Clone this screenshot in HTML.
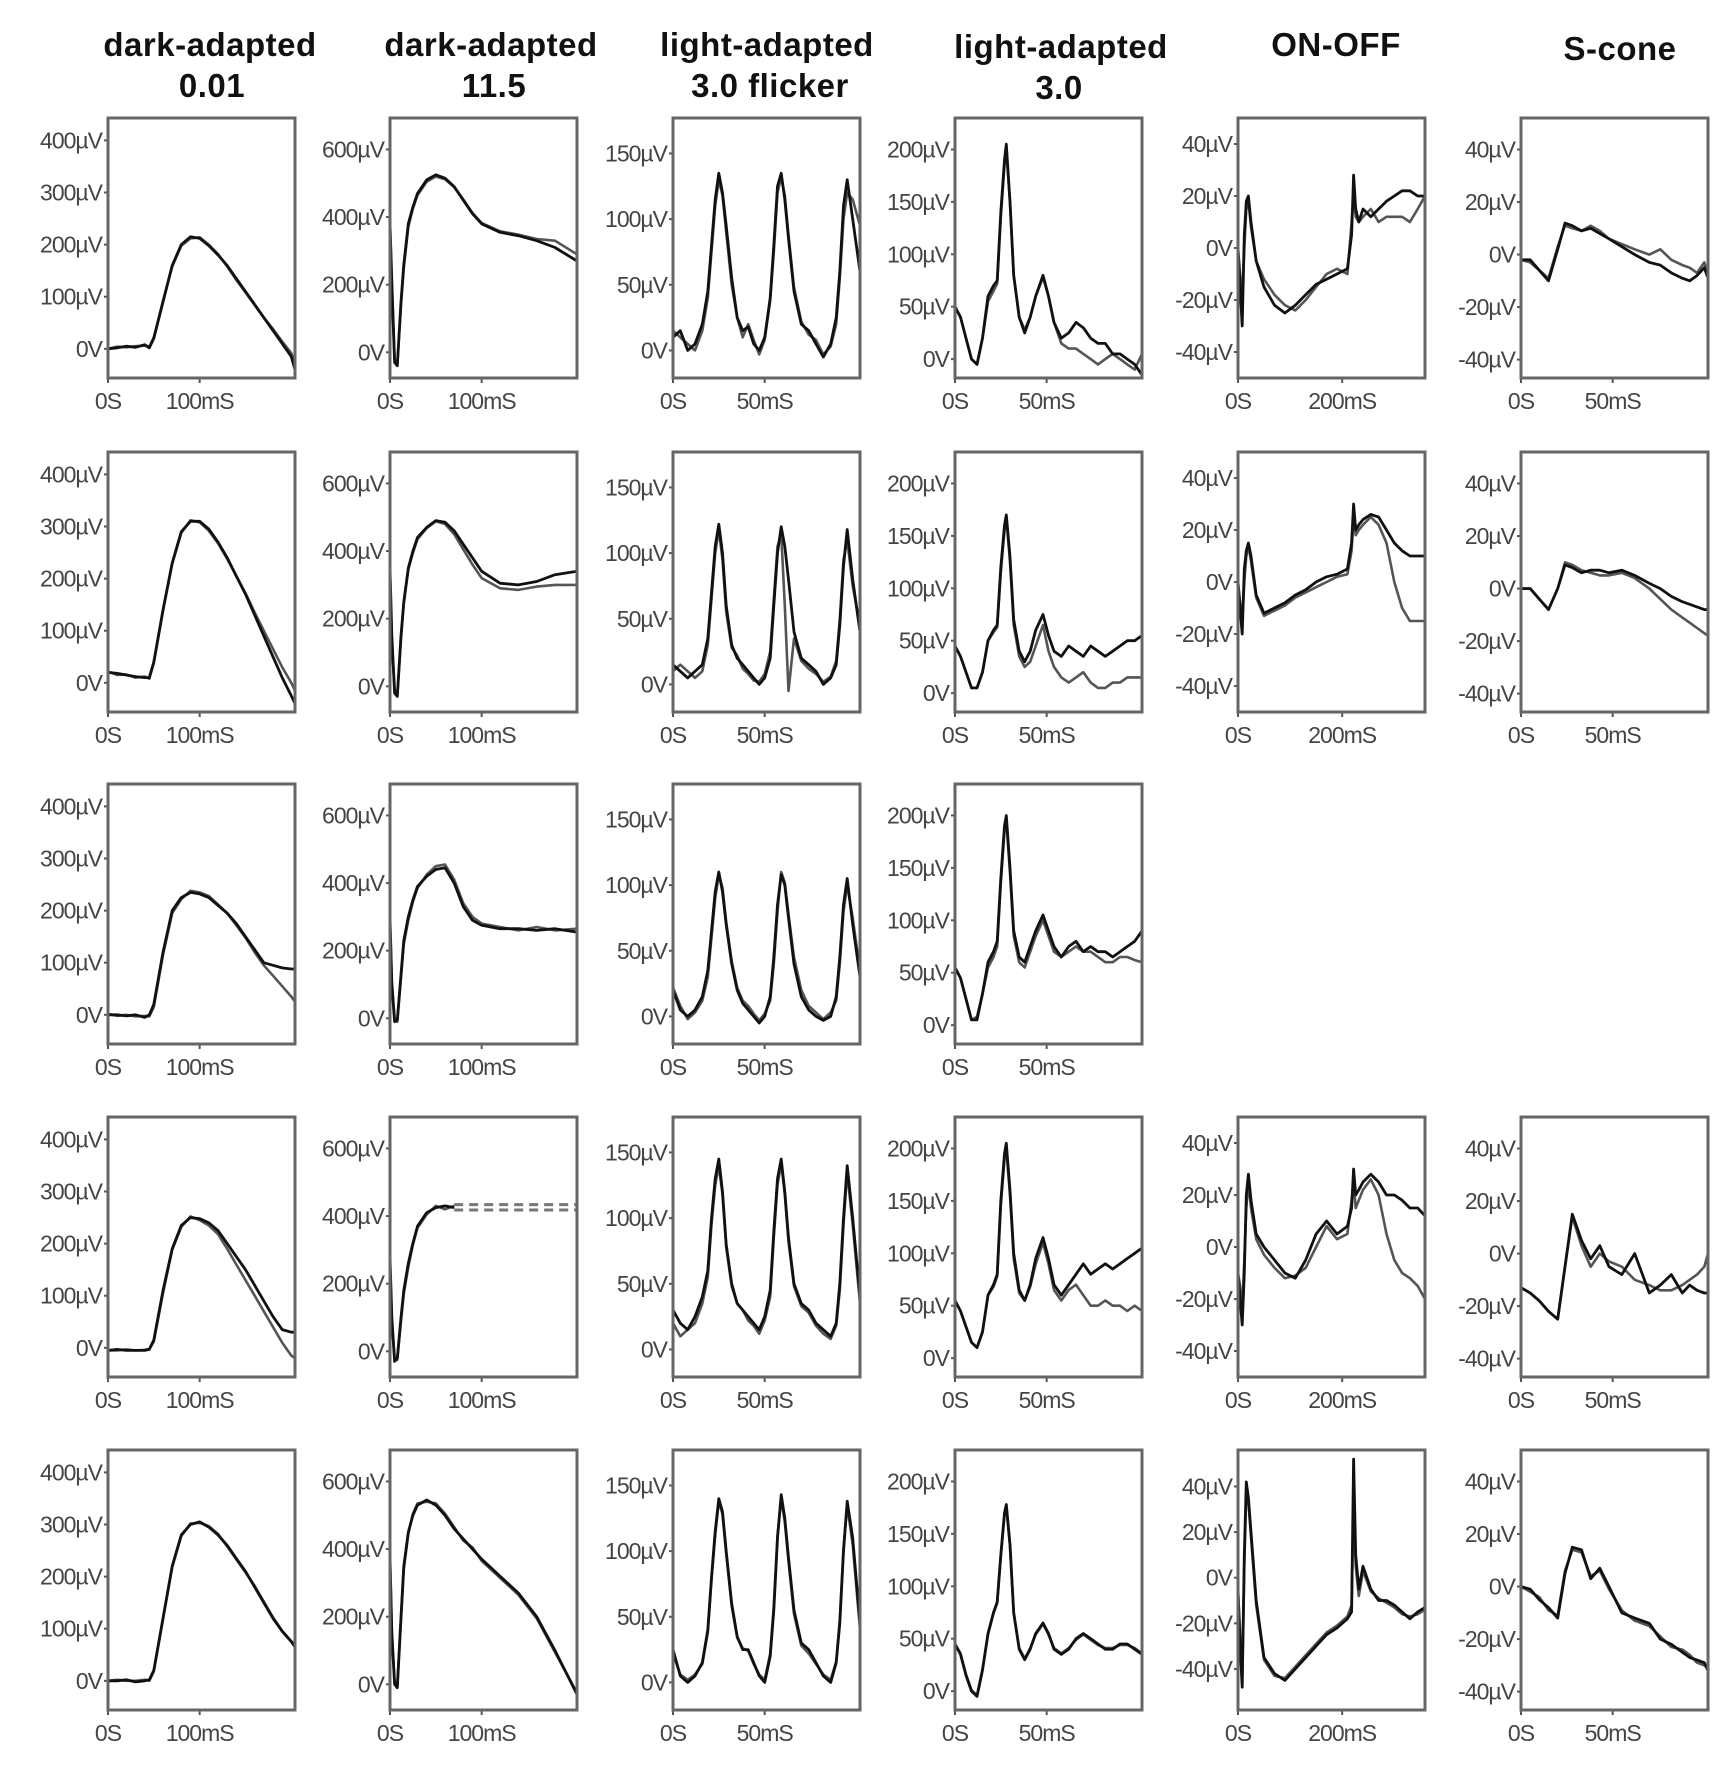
<!DOCTYPE html>
<html><head><meta charset="utf-8"><style>
html,body{margin:0;padding:0;background:#fff;}
svg text{font-family:"Liberation Sans",sans-serif;}
.tl{font-size:23px;fill:#444;letter-spacing:-1px;}
.tt{font-size:33px;font-weight:bold;fill:#111;letter-spacing:0.5px;}
</style></head><body>
<svg id="fig" width="1734" height="1761" viewBox="0 0 1734 1761" xmlns="http://www.w3.org/2000/svg">
<g>
<text class="tt" x="210" y="56" text-anchor="middle">dark-adapted</text>
<text class="tt" x="212" y="97" text-anchor="middle">0.01</text>
<text class="tt" x="491" y="56" text-anchor="middle">dark-adapted</text>
<text class="tt" x="494" y="97" text-anchor="middle">11.5</text>
<text class="tt" x="767" y="56" text-anchor="middle">light-adapted</text>
<text class="tt" x="770" y="97" text-anchor="middle">3.0 flicker</text>
<text class="tt" x="1061" y="58" text-anchor="middle">light-adapted</text>
<text class="tt" x="1059" y="99" text-anchor="middle">3.0</text>
<text class="tt" x="1336" y="56" text-anchor="middle">ON-OFF</text>
<text class="tt" x="1620" y="60" text-anchor="middle">S-cone</text>
</g>
<g id="panels"></g>
</svg>
<script>
// time grids (ms)
const c1_t=[0,10,20,30,40,45,50,60,70,80,90,100,110,120,130,140,150,160,170,180,190,200,204];
const c2_t=[0,2,5,8,12,15,20,25,30,40,50,60,70,80,90,100,120,140,160,180,204];
const c2r4_t=[0,2,5,8,12,15,20,25,30,40,50,60,70];
const c3_t=[0,4,8,12,16,19,21,23,25,27,29,32,35,38,41,44,47,50,53,55,57,59,61,63,66,70,74,78,82,86,89,91,93,95,98,102];
const c4_t=[0,3,6,9,12,15,18,21,23,25,27,28,30,32,35,38,41,44,48,51,54,58,62,66,70,74,78,82,86,90,94,98,102];
const c5_t=[0,4,8,12,16,20,25,35,50,70,90,110,130,150,170,190,210,218,222,226,232,240,255,270,285,300,315,330,345,359];
const c6_t=[0,5,10,15,20,24,28,33,38,43,48,55,62,70,76,82,88,92,96,100,102];
// values (µV)
const r1c1_a=[0,2,5,3,8,2,20,90,160,200,215,212,198,180,160,135,110,85,60,35,10,-15,-40];
const r1c1_b=[0,4,3,5,6,4,22,92,158,198,212,214,200,182,158,132,108,84,60,38,14,-8,-28];
const r2c1_a=[20,18,15,12,10,10,40,140,230,290,310,310,295,270,240,205,170,130,90,50,10,-25,-40];
const r2c1_b=[22,15,16,10,12,8,38,138,228,288,312,308,292,268,238,205,172,135,100,65,30,0,-15];
const r3c1_a=[0,0,-2,0,-5,0,20,120,200,225,235,232,225,210,195,175,150,125,100,95,90,88,88];
const r3c1_b=[2,-2,0,-3,-2,-3,15,115,195,222,238,235,228,212,195,172,148,120,95,75,55,35,25];
const r4c1_a=[-5,-3,-5,-5,-5,-3,15,110,190,235,250,248,240,225,200,175,150,120,90,60,35,30,30];
const r4c1_b=[-5,-5,-3,-5,-4,-2,12,105,188,232,252,245,235,218,190,160,130,100,70,40,10,-15,-20];
const r5c1_a=[0,0,2,-2,0,2,20,120,220,280,300,305,295,280,260,235,210,180,150,120,95,75,65];
const r5c1_b=[0,2,0,0,2,0,18,118,218,278,302,303,297,282,258,233,208,182,152,122,96,76,68];

const r1c2_a=[380,200,-30,-40,150,260,380,430,470,510,525,515,490,450,410,380,355,345,330,310,270];
const r1c2_b=[390,220,-20,-35,140,250,370,425,465,505,520,512,488,452,412,382,358,348,335,330,290];
const r2c2_a=[350,150,-20,-30,150,250,350,400,440,470,490,485,460,420,380,340,305,300,310,330,340];
const r2c2_b=[340,140,-10,-25,140,245,345,395,435,468,488,480,450,405,360,320,290,285,295,300,300];
const r3c2_a=[300,100,-10,-5,130,230,300,350,390,420,440,445,400,330,290,275,265,265,260,265,255];
const r3c2_b=[290,110,0,-10,120,220,290,345,385,425,450,455,410,340,300,280,270,260,270,260,265];
const r4c2_a=[280,100,-30,-20,100,180,260,320,370,410,425,430,425];
const r4c2_b=[270,90,-20,-25,90,170,250,315,365,405,430,420,430];
const r4c2_dash=[418,434];
const r5c2_a=[380,150,0,-10,200,350,450,500,530,545,530,500,460,430,400,370,320,270,200,100,-30];
const r5c2_b=[370,160,10,-5,190,340,445,505,535,540,535,505,465,425,405,365,315,265,195,95,-25];

const r1c3_a=[10,15,0,5,20,45,80,115,135,120,95,55,25,15,18,5,0,10,40,80,125,135,115,85,45,20,15,5,-5,5,25,60,110,130,100,60];
const r1c3_b=[15,10,5,0,15,40,75,110,130,118,90,50,25,10,20,8,-3,8,38,75,120,132,118,88,48,22,12,8,-3,3,20,55,100,120,115,95];
const r2c3_a=[15,10,5,10,15,35,70,105,122,100,60,30,20,15,10,5,0,5,20,60,100,120,105,80,40,20,15,10,0,5,15,45,90,118,80,40];
const r2c3_b=[10,15,10,5,10,30,65,100,118,95,55,28,22,12,8,3,2,8,25,65,105,115,60,-5,35,18,12,8,2,6,18,50,95,110,75,45];
const r3c3_a=[20,5,0,5,15,35,65,95,110,95,70,40,20,10,5,0,-5,0,15,45,85,108,100,75,40,15,5,0,-3,0,15,45,85,105,70,30];
const r3c3_b=[22,8,-2,3,12,30,60,90,108,98,72,42,22,12,8,2,-3,2,12,40,80,110,102,78,45,20,8,3,-2,3,12,40,80,100,75,35];
const r4c3_a=[30,20,15,25,40,60,100,130,145,120,80,50,35,30,25,20,15,25,45,90,130,145,120,85,50,35,30,20,15,10,20,50,100,140,100,40];
const r4c3_b=[20,10,15,20,35,55,95,125,140,118,78,48,35,30,22,18,12,22,40,85,125,142,118,82,48,33,28,18,12,8,18,45,95,135,95,35];
const r5c3_a=[25,5,0,5,15,40,80,115,140,130,100,60,35,25,25,15,5,0,20,55,110,143,125,95,55,30,25,15,5,0,15,45,100,138,110,45];
const r5c3_b=[22,6,2,6,14,38,78,112,138,128,98,58,34,26,24,14,6,2,22,58,112,140,122,92,52,28,22,14,6,2,16,48,102,135,105,40];

const r1c4_a=[50,40,20,0,-5,20,60,70,75,140,190,205,150,80,40,25,40,60,80,60,35,20,25,35,30,20,15,15,5,5,0,-5,-15];
const r1c4_b=[50,40,20,0,-5,20,55,65,72,135,185,200,150,80,40,28,40,60,78,60,35,15,10,10,5,0,-5,0,5,0,-5,-10,5];
const r2c4_a=[45,35,20,5,5,20,50,60,65,120,160,170,130,70,40,30,40,60,75,55,40,35,45,40,35,45,40,35,40,45,50,50,55];
const r2c4_b=[45,35,20,5,5,20,50,58,63,115,155,168,125,65,35,25,30,45,65,40,25,15,10,15,20,10,5,5,10,10,15,15,15];
const r3c4_a=[55,45,25,5,5,30,60,70,80,140,190,200,150,90,65,60,75,90,105,90,75,65,75,80,70,75,70,70,65,70,75,80,90];
const r3c4_b=[55,45,25,5,8,30,55,65,75,135,185,195,145,85,60,55,70,85,100,85,70,65,70,75,70,70,65,60,60,65,65,62,60];
const r4c4_a=[55,45,30,15,10,25,60,70,80,150,195,205,160,100,65,55,70,95,115,95,70,60,70,80,90,80,85,90,85,90,95,100,105];
const r4c4_b=[55,45,30,15,10,25,60,68,78,145,190,200,155,95,62,55,68,90,110,90,65,55,65,70,60,50,50,55,50,50,45,50,45];
const r5c4_a=[45,35,15,0,-5,20,55,75,85,130,170,178,140,75,40,30,40,55,65,55,40,35,40,50,55,50,45,40,40,45,45,40,35];
const r5c4_b=[45,36,16,1,-4,21,54,74,84,128,168,176,138,74,41,31,41,54,64,54,41,36,41,49,54,49,44,41,41,44,44,41,36];

const r1c5_a=[0,-15,-30,5,18,20,10,-5,-15,-22,-25,-22,-18,-14,-12,-10,-8,5,28,15,10,15,12,15,18,20,22,22,20,20];
const r1c5_b=[0,-10,-20,0,15,18,8,-5,-12,-18,-22,-24,-20,-15,-10,-8,-10,10,20,12,10,12,15,10,12,12,12,10,15,20];
const r2c5_a=[0,-10,-20,5,12,15,10,-5,-12,-10,-8,-5,-3,0,2,3,5,15,30,20,22,24,26,25,20,15,12,10,10,10];
const r2c5_b=[0,-8,-15,0,10,14,8,-6,-13,-11,-9,-6,-4,-2,0,2,3,12,25,18,20,22,25,22,15,0,-10,-15,-15,-15];
const r4c5_a=[-10,-20,-30,-10,20,28,18,5,0,-5,-10,-12,-5,5,10,5,8,15,30,20,22,25,28,25,20,20,18,15,15,12];
const r4c5_b=[-10,-15,-25,-5,15,25,15,3,-3,-8,-12,-11,-8,0,8,3,5,18,25,15,18,22,26,20,5,-5,-10,-12,-15,-20];
const r5c5_a=[-5,-30,-48,10,42,35,20,-10,-35,-42,-45,-40,-35,-30,-25,-22,-18,-15,52,10,-5,5,-5,-10,-10,-12,-15,-18,-15,-13];
const r5c5_b=[-5,-25,-45,5,38,33,18,-12,-36,-43,-44,-39,-34,-29,-24,-21,-17,-12,35,5,-8,3,-6,-9,-11,-13,-16,-17,-16,-14];

const r1c6_a=[-2,-2,-6,-10,2,12,11,9,10,8,6,3,0,-3,-4,-7,-9,-10,-8,-5,-9];
const r1c6_b=[-2,-3,-6,-9,3,11,10,9,11,9,6,4,2,0,2,-2,-4,-5,-7,-3,-8];
const r2c6_a=[0,0,-4,-8,0,9,8,6,7,7,6,7,5,2,0,-3,-5,-6,-7,-8,-8];
const r2c6_b=[0,0,-4,-8,0,10,9,7,6,5,5,6,4,0,-4,-8,-11,-13,-15,-17,-18];
const r4c6_a=[-13,-15,-18,-22,-25,-5,15,5,-2,3,-5,-8,0,-15,-12,-8,-15,-12,-14,-15,-15];
const r4c6_b=[-13,-15,-18,-22,-25,-5,14,3,-5,0,-3,-5,-10,-12,-14,-14,-12,-10,-8,-5,0];
const r5c6_a=[0,-1,-5,-8,-12,5,15,14,3,7,0,-10,-12,-14,-20,-22,-25,-27,-28,-29,-32];
const r5c6_b=[0,-2,-4,-9,-11,6,14,13,4,6,-1,-9,-13,-15,-19,-23,-24,-26,-29,-30,-31];

// tick values and labels
const c1_yticks=[0,100,200,300,400];
const c1_ylabels=["0V","100µV","200µV","300µV","400µV"];
const c2_yticks=[0,200,400,600];
const c2_ylabels=["0V","200µV","400µV","600µV"];
const c3_yticks=[0,50,100,150];
const c3_ylabels=["0V","50µV","100µV","150µV"];
const c4_yticks=[0,50,100,150,200];
const c4_ylabels=["0V","50µV","100µV","150µV","200µV"];
const c56_yticks=[-40,-20,0,20,40];
const c56_ylabels=["-40µV","-20µV","0V","20µV","40µV"];
const c12_xticks=[0,100]; const c12_xlabels=["0S","100mS"];
const c346_xticks=[0,50]; const c346_xlabels=["0S","50mS"];
const c5_xticks=[0,200]; const c5_xlabels=["0S","200mS"];

// layout
const colL=[108,390,673,955,1238,1521];
const rowT=[118,452,784,1117,1450];
const PW=187, PH=260;
const cols=[
 {name:"dark-adapted-001",x:[0,204],y:[-56,443],yt:c1_yticks,yl:c1_ylabels,xt:c12_xticks,xl:c12_xlabels,t:c1_t},
 {name:"dark-adapted-115",x:[0,204],y:[-76,693],yt:c2_yticks,yl:c2_ylabels,xt:c12_xticks,xl:c12_xlabels,t:c2_t},
 {name:"flicker",x:[0,102],y:[-21,177],yt:c3_yticks,yl:c3_ylabels,xt:c346_xticks,xl:c346_xlabels,t:c3_t},
 {name:"light-adapted-30",x:[0,102],y:[-18,230],yt:c4_yticks,yl:c4_ylabels,xt:c346_xticks,xl:c346_xlabels,t:c4_t},
 {name:"on-off",x:[0,359],y:[-50,50],yt:c56_yticks,yl:c56_ylabels,xt:c5_xticks,xl:c5_xlabels,t:c5_t},
 {name:"s-cone",x:[0,102],y:[-47,52],yt:c56_yticks,yl:c56_ylabels,xt:c346_xticks,xl:c346_xlabels,t:c6_t}
];
const panels=[
 [0,0,r1c1_a,r1c1_b],[0,1,r1c2_a,r1c2_b],[0,2,r1c3_a,r1c3_b],[0,3,r1c4_a,r1c4_b],[0,4,r1c5_a,r1c5_b],[0,5,r1c6_a,r1c6_b],
 [1,0,r2c1_a,r2c1_b],[1,1,r2c2_a,r2c2_b],[1,2,r2c3_a,r2c3_b],[1,3,r2c4_a,r2c4_b],[1,4,r2c5_a,r2c5_b],[1,5,r2c6_a,r2c6_b],
 [2,0,r3c1_a,r3c1_b],[2,1,r3c2_a,r3c2_b],[2,2,r3c3_a,r3c3_b],[2,3,r3c4_a,r3c4_b],
 [3,0,r4c1_a,r4c1_b],[3,1,r4c2_a,r4c2_b],[3,2,r4c3_a,r4c3_b],[3,3,r4c4_a,r4c4_b],[3,4,r4c5_a,r4c5_b],[3,5,r4c6_a,r4c6_b],
 [4,0,r5c1_a,r5c1_b],[4,1,r5c2_a,r5c2_b],[4,2,r5c3_a,r5c3_b],[4,3,r5c4_a,r5c4_b],[4,4,r5c5_a,r5c5_b],[4,5,r5c6_a,r5c6_b]
];
const NS="http://www.w3.org/2000/svg";
const root=document.getElementById("panels");
function mk(tag,attrs,parent){const e=document.createElementNS(NS,tag);for(const k in attrs)e.setAttribute(k,attrs[k]);parent.appendChild(e);return e;}
panels.forEach(function(p){
 const r=p[0],c=p[1],col=cols[c];
 const L=colL[c],T=rowT[r];
 let ydom=col.y;
 if(r===4&&c===4) ydom=[-58,56];
 let t=col.t;
 if(r===3&&c===1) t=c2r4_t;
 const xs=function(v){return L+(v-col.x[0])/(col.x[1]-col.x[0])*PW;};
 const ys=function(v){return T+PH-(v-ydom[0])/(ydom[1]-ydom[0])*PH;};
 const g=mk("g",{},root);
 
 
 col.yt.forEach(function(v,i){
  const y=ys(v);
  const tk=mk("line",{x1:L-4,x2:L,y1:y,y2:y,stroke:"#555","stroke-width":2},g);
  
  
  const tx=mk("text",{x:L-6,y:y+8,"text-anchor":"end",class:"tl"},g);
  
  
  tx.textContent=col.yl[i];
 });
 col.xt.forEach(function(v,i){
  const x=xs(v);
  const tk=mk("line",{x1:x,x2:x,y1:T+PH,y2:T+PH+5,stroke:"#555","stroke-width":2},g);
  
  
  const tx=mk("text",{x:x,y:T+PH+31,"text-anchor":"middle",class:"tl"},g);
  
  
  tx.textContent=col.xl[i];
 });
 [[p[3],"#555",2.6],[p[2],"#111",2.8]].forEach(function(s,k){
  const vals=s[0];
  const d=vals.map(function(v,i){return (i?"L":"M")+xs(t[i]).toFixed(1)+" "+ys(v).toFixed(1);}).join(" ");
  const path=mk("path",{d:d,fill:"none",stroke:s[1],"stroke-width":s[2],"stroke-linejoin":"round"},g);
  
  
 });
 if(r===3&&c===1){
  r4c2_dash.forEach(function(v){
   const dl=mk("line",{x1:xs(t[t.length-1]),x2:L+PW,y1:ys(v),y2:ys(v),stroke:"#777","stroke-width":3,"stroke-dasharray":"9 6"},g);
   
   
  });
 }
 const box=mk("rect",{x:L,y:T,width:PW,height:PH,fill:"none",stroke:"#666","stroke-width":3},g);
 
 
});
</script>
</body></html>
